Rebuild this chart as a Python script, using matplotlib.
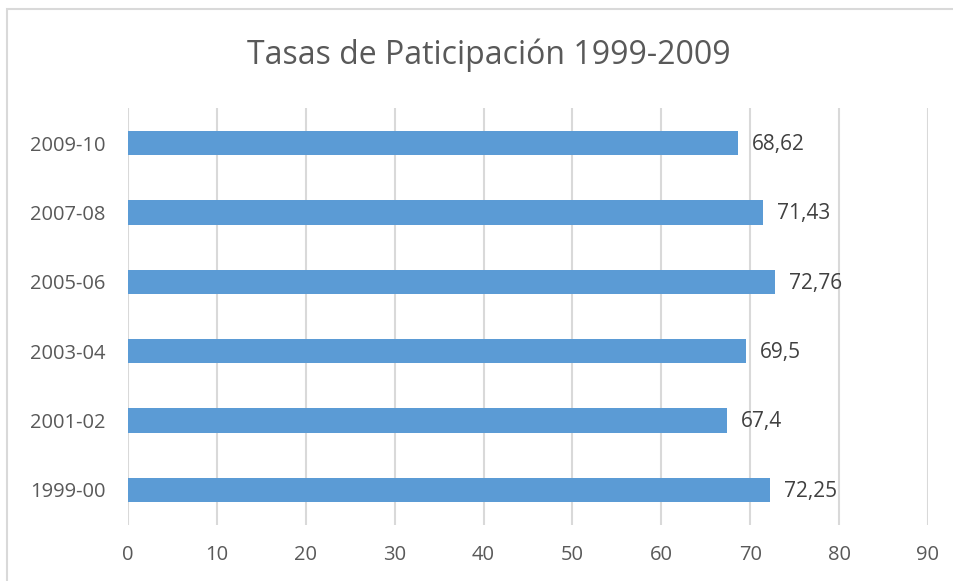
import matplotlib.pyplot as plt
from matplotlib.patches import Rectangle

# data
periods = ['1999-00', '2001-02', '2003-04', '2005-06', '2007-08', '2009-10']
rates = [72.25, 67.4, 69.5, 72.76, 71.43, 68.62]
rate_labels = ['72,25', '67,4', '69,5', '72,76', '71,43', '68,62']
x_ticks = [0, 10, 20, 30, 40, 50, 60, 70, 80, 90]

text_color = '#595959'
plt.rcParams['font.family'] = ['Open Sans', 'DejaVu Sans']

fig = plt.figure(figsize=(9.54, 5.81), dpi=100)
ax = fig.add_axes([0.1342, 0.0972, 0.8385, 0.7161])

# chart border (only left and top edges fall inside the image)
fig.patches.append(Rectangle((7 / 954, -0.05), 1.0, 1.05 - 9 / 581,
                             transform=fig.transFigure, fill=False,
                             edgecolor='#D9D9D9', linewidth=1.5))

ax.barh(range(len(periods)), rates, height=0.35, color='#5B9BD5', zorder=3)
for i, (v, lab) in enumerate(zip(rates, rate_labels)):
    ax.annotate(lab, (v, i), xytext=(10, -1), textcoords='offset points',
                va='center', ha='left', fontsize=15, color='#404040')

ax.set_xlim(0, 90)
ax.set_ylim(-0.5, len(periods) - 0.5)
ax.set_xticks(x_ticks)
ax.set_yticks(range(len(periods)))
ax.set_yticklabels(periods)
ax.grid(axis='x', color='#D9D9D9', linewidth=1.5, zorder=0)
for s in ax.spines.values():
    s.set_visible(False)
ax.tick_params(axis='both', length=0, labelsize=14.5, colors=text_color)
ax.tick_params(axis='x', pad=15)
ax.tick_params(axis='y', pad=16)

fig.text(0.512, 0.905, 'Tasas de Paticipación 1999-2009', ha='center',
         va='center', fontsize=23, color=text_color)

fig.savefig('out.png', dpi=100)
